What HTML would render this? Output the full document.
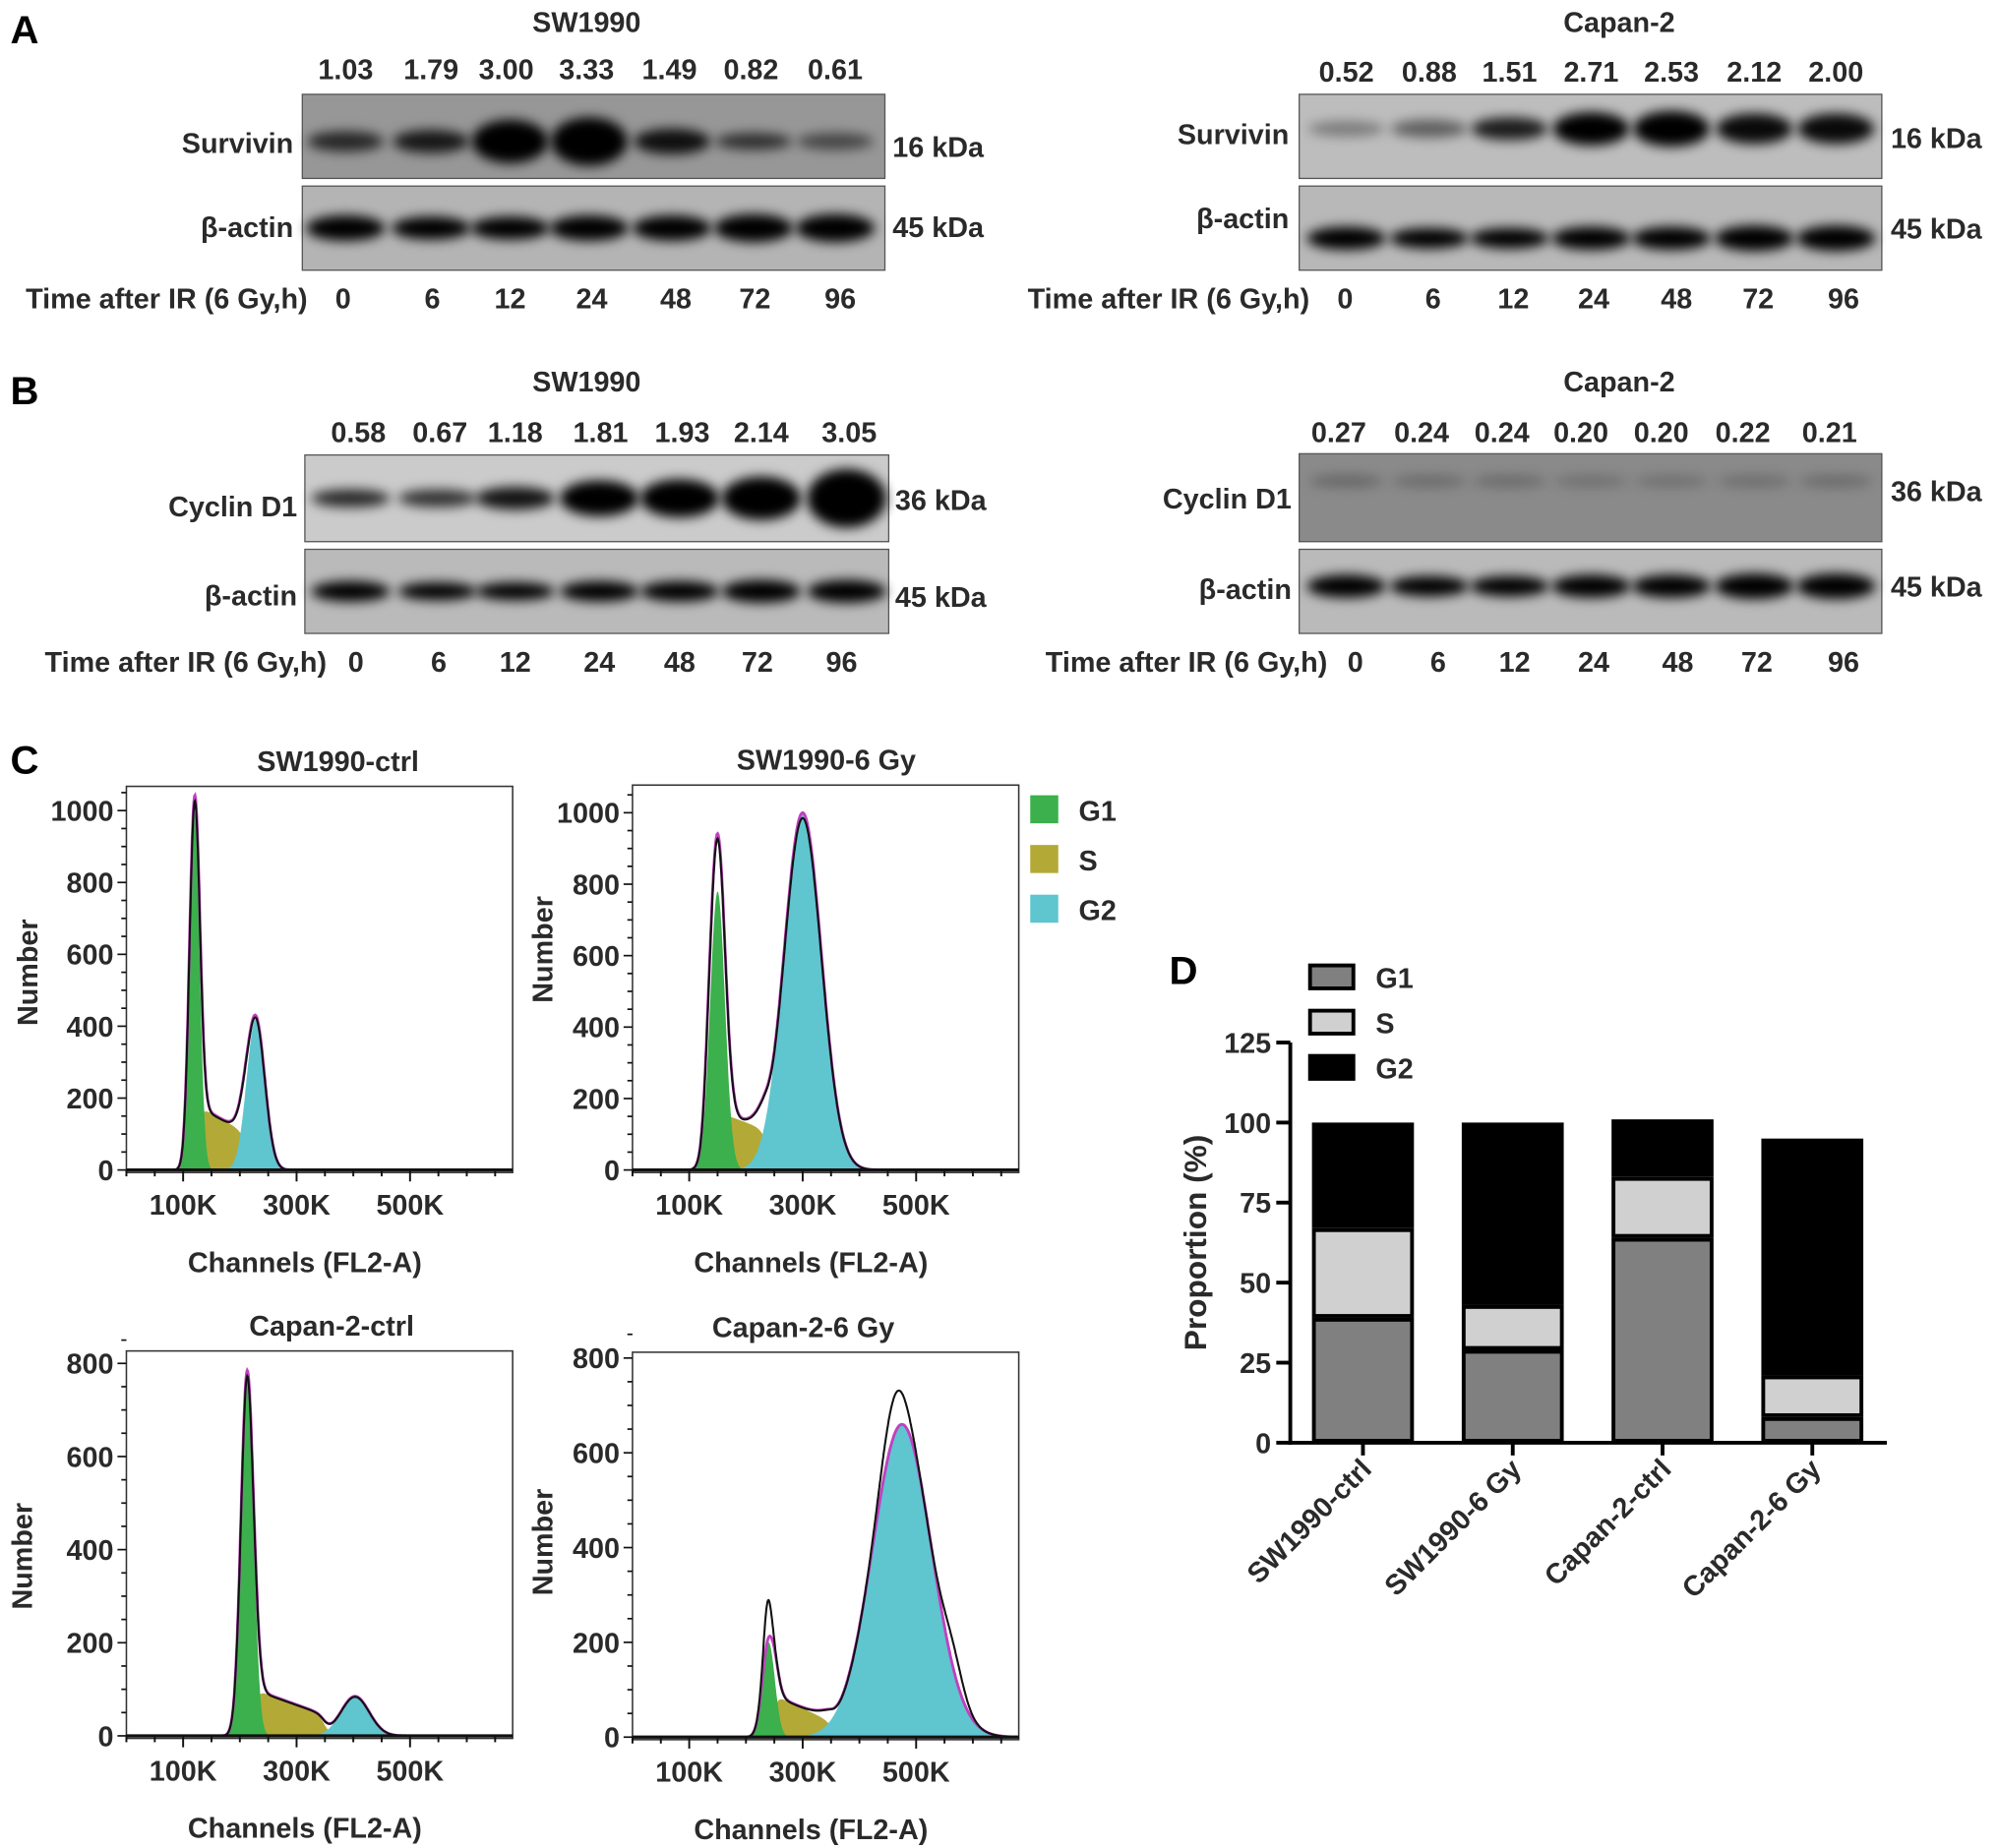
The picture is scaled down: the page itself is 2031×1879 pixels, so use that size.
<!DOCTYPE html>
<html><head><meta charset="utf-8">
<style>
html,body{margin:0;padding:0;background:#fff;}
svg{display:block;}
text{font-family:"Liberation Sans",Arial,sans-serif;font-weight:bold;fill:#2a2a2a;}
.big{font-size:31px;fill:#000;}
</style></head>
<body>
<svg id="fig" width="2031" height="1879" viewBox="0 0 1567 1450" xmlns="http://www.w3.org/2000/svg">
<defs>
<filter id="blur" x="-50%" y="-100%" width="200%" height="300%"><feGaussianBlur stdDeviation="4.5"/></filter>
</defs>
<text class="big" x="8" y="34">A</text>
<text class="big" x="8" y="317">B</text>
<text class="big" x="8" y="607">C</text>
<text class="big" x="917" y="772">D</text>
<g id="blots"></g>
<g id="hists"></g>
<g id="barD"></g>
</svg>
<script>
// ---------- Western blot data ----------
const aSwValues = ["1.03","1.79","3.00","3.33","1.49","0.82","0.61"];
const aCpValues = ["0.52","0.88","1.51","2.71","2.53","2.12","2.00"];
const bSwValues = ["0.58","0.67","1.18","1.81","1.93","2.14","3.05"];
const bCpValues = ["0.27","0.24","0.24","0.20","0.20","0.22","0.21"];
const timeLabels = ["0","6","12","24","48","72","96"];
const aSwBandOp = [0.75,0.85,1,1,0.9,0.7,0.55];
const aSwBandH  = [16,18,34,38,20,13,13];
const aCpBandOp = [0.35,0.5,0.85,1,1,0.95,0.95];
const aCpBandH  = [12,14,18,26,28,24,24];
const bSwBandOp = [0.8,0.75,0.9,1,1,1,1];
const bSwBandH  = [14,14,18,28,30,34,46];
const bCpBandOp = [0.25,0.22,0.22,0.18,0.18,0.2,0.22];
const bCpBandH  = [10,10,10,10,10,10,10];
const actinOp = [1,1,1,1,1,1,1];
const actinH = [20,18,18,20,20,22,22];

// ---------- Flow cytometry data ([mean K, sd K, height]) ----------
const p1G1 = [120, 9, 1000];   const p1G2 = [228, 16, 420];  const p1S = [125, 215, 180, 100];
const p2G1 = [150, 13, 780];   const p2G2 = [300, 33, 1000]; const p2S = [128, 240, 175, 110];
const p3G1 = [213, 11, 780];   const p3G2 = [403, 25, 85];   const p3S = [225, 350, 100, 45];
const p4G1 = [240, 11, 200];   const p4G2 = [475, 52, 660];  const p4S = [248, 355, 90, 30];
const p4Extra = [[238, 7, 85], [462, 22, 90], [565, 18, 55]];
const histYTicks1 = [0,200,400,600,800,1000];
const histYTicks2 = [0,200,400,600,800];
const histXTicks = ["100K","300K","500K"];

// ---------- Panel D data ----------
const dCats = ["SW1990-ctrl","SW1990-6 Gy","Capan-2-ctrl","Capan-2-6 Gy"];
const dG1 = [39, 29, 64, 8];
const dS  = [28, 14, 19, 13];
const dG2 = [33, 57, 18, 74];
const dYTicks = [0,25,50,75,100,125];

const NS = "http://www.w3.org/2000/svg";
function mk(tag, attrs, parent){const e=document.createElementNS(NS,tag);for(const k in attrs)e.setAttribute(k,attrs[k]);parent.appendChild(e);return e;}
function txt(s, x, y, anchor, size, parent){const t=mk('text',{x:x,y:y,'text-anchor':anchor,'font-size':(size*1.11).toFixed(1)},parent);t.textContent=s;return t;}

// ---------- Blots ----------
const blots = document.getElementById('blots');
function blot(x,y,w,h,bg,lanes,ops,hs,bw,name,dy){
  const g=mk('g',{},blots);
  
  
  const r=mk('rect',{x:x,y:y,width:w,height:h,fill:bg,stroke:'#555','stroke-width':1},g);
  
  
  for(let i=0;i<lanes.length;i++){
    const b=mk('ellipse',{cx:lanes[i],cy:y+h/2+(dy||0),rx:bw/2,ry:hs[i]/2,fill:'#000','fill-opacity':ops[i],filter:'url(#blur)'},g);
    
    
  }
}
function rowText(vals, xs, y, name){
  for(let i=0;i<vals.length;i++){
    const t=txt(vals[i], xs[i], y, 'middle', 20, blots);
    
    
  }
}
function lbl(s,x,y,anchor,name){const t=txt(s,x,y,anchor,20,blots);}

const aSwL=[271,338,400,462,527,591,655];
lbl('SW1990',460,25,'middle','blot-title-a-sw1990');
rowText(aSwValues,[271,338,397,460,525,589,655],62,'survivin-ratio-value');
blot(237,74,457,66,'#979797',aSwL,aSwBandOp,aSwBandH,60,'survivin-blot-sw1990',4);
blot(237,146,457,66,'#b4b4b4',aSwL,actinOp,actinH,62,'actin-blot-a-sw1990',0);
lbl('Survivin',230,120,'end','survivin-label'); lbl('β-actin',230,186,'end','actin-label');
lbl('16 kDa',700,123,'start','kda-label'); lbl('45 kDa',700,186,'start','kda-label');
lbl('Time after IR (6 Gy,h)',20,242,'start','time-axis-label');
rowText(timeLabels,[269,339,400,464,530,592,659],242,'time-label');
const aCpL=[1056,1121,1184,1248,1311,1376,1440];
lbl('Capan-2',1270,25,'middle','blot-title-a-capan2');
rowText(aCpValues,[1056,1121,1184,1248,1311,1376,1440],64,'survivin-ratio-value');
blot(1019,74,457,66,'#bdbdbd',aCpL,aCpBandOp,aCpBandH,60,'survivin-blot-capan2',-6);
blot(1019,146,457,66,'#b8b8b8',aCpL,actinOp,actinH.map(v=>v-2),62,'actin-blot-a-capan2',8);
lbl('Survivin',1011,113,'end','survivin-label'); lbl('β-actin',1011,179,'end','actin-label');
lbl('16 kDa',1483,116,'start','kda-label'); lbl('45 kDa',1483,187,'start','kda-label');
lbl('Time after IR (6 Gy,h)',806,242,'start','time-axis-label');
rowText(timeLabels,[1055,1124,1187,1250,1315,1379,1446],242,'time-label');
const bSwL=[275,343,404,470,533,597,664];
lbl('SW1990',460,307,'middle','blot-title-b-sw1990');
rowText(bSwValues,[281,345,404,471,535,597,666],347,'cyclin-ratio-value');
blot(239,357,458,68,'#cbcbcb',bSwL,bSwBandOp,bSwBandH,62,'cyclin-blot-sw1990',0);
blot(239,431,458,66,'#bababa',bSwL,actinOp,actinH.map(v=>v-4),62,'actin-blot-b-sw1990',0);
lbl('Cyclin D1',233,405,'end','cyclin-label'); lbl('β-actin',233,475,'end','actin-label');
lbl('36 kDa',702,400,'start','kda-label'); lbl('45 kDa',702,476,'start','kda-label');
lbl('Time after IR (6 Gy,h)',35,527,'start','time-axis-label');
rowText(timeLabels,[279,344,404,470,533,594,660],527,'time-label');
const bCpL=[1056,1121,1184,1248,1311,1376,1440];
lbl('Capan-2',1270,307,'middle','blot-title-b-capan2');
rowText(bCpValues,[1050,1115,1178,1240,1303,1367,1435],347,'cyclin-ratio-value');
blot(1019,356,457,69,'#8a8a8a',bCpL,bCpBandOp,bCpBandH,58,'cyclin-blot-capan2',-13);
blot(1019,431,457,66,'#bababa',bCpL,actinOp,actinH.map(v=>v-2),62,'actin-blot-b-capan2',-4);
lbl('Cyclin D1',1013,399,'end','cyclin-label'); lbl('β-actin',1013,470,'end','actin-label');
lbl('36 kDa',1483,393,'start','kda-label'); lbl('45 kDa',1483,468,'start','kda-label');
lbl('Time after IR (6 Gy,h)',820,527,'start','time-axis-label');
rowText(timeLabels,[1063,1128,1188,1250,1316,1378,1446],527,'time-label');

// ---------- Histograms ----------
const hists=document.getElementById('hists');
function gauss(v,c){return c[2]*Math.exp(-0.5*Math.pow((v-c[0])/c[1],2));}
function sig(z){return 1/(1+Math.exp(-z));}
function sComp(v,s){const t=Math.min(1,Math.max(0,(v-s[0])/(s[1]-s[0])));return (s[2]+(s[3]-s[2])*t)*sig((v-s[0])/4)*sig((s[1]-v)/6);}
function hist(cfg){
  const g=mk('g',{},hists);
  
  
  const X=v=>cfg.x0+0.445*v, Y=c=>cfg.y0-c*cfg.ky;
  const top=cfg.top, right=cfg.x0+303;
  const frame=mk('rect',{x:cfg.x0,y:top,width:303,height:cfg.y0+2-top,fill:'#fff',stroke:'#333','stroke-width':1.2},g);
  
  
  function area(fn,color,name){
    let d='M'+X(0)+','+Y(0);
    for(let v=0;v<=680;v+=1){d+=' L'+X(v).toFixed(1)+','+Y(fn(v)).toFixed(1);}
    d+=' L'+X(680)+','+Y(0)+'Z';
    const p=mk('path',{d:d,fill:color},g);
    
    
  }
  area(v=>sComp(v,cfg.S),'#b3a936','s-phase-area');
  area(v=>gauss(v,cfg.G1),'#3bb04c','g1-area');
  area(v=>gauss(v,cfg.G2),'#5fc5cf','g2-area');
  function line(fn,color,w,name){
    let d='';
    for(let v=0;v<=680;v+=1){d+=(v?' L':'M')+X(v).toFixed(1)+','+Y(fn(v)).toFixed(1);}
    const p=mk('path',{d:d,fill:'none',stroke:color,'stroke-width':w},g);
    
    
  }
  const fit=v=>gauss(v,cfg.G1)+gauss(v,cfg.G2)+sComp(v,cfg.S);
  line(fit,'#c040c0',2.2,'model-fit-line');
  const obs=v=>{let s=fit(v)*0.985;(cfg.extra||[]).forEach(c=>{s+=gauss(v,c);});return s;};
  line(obs,'#111',1.6,'data-line');
  const ax=mk('line',{x1:cfg.x0,y1:cfg.y0,x2:right,y2:cfg.y0,stroke:'#111','stroke-width':2.5},g);
  
  
  for(let v=0;v<=650;v+=50){
    const major=(v===100||v===300||v===500);
    const tk=mk('line',{x1:X(v),y1:cfg.y0,x2:X(v),y2:cfg.y0+(major?9:5),stroke:'#111','stroke-width':1.5},g);
    
    
  }
  histXTicks.forEach((s,i)=>{
    const t=txt(s,X(100+200*i),cfg.y0+35,'middle',20,g);
    
    
  });
  const ymax=cfg.yt[cfg.yt.length-1];
  for(let c=0;c<=ymax+50;c+=50){
    const major=c%200===0;
    const tk=mk('line',{x1:cfg.x0-(major?7:4),y1:Y(c),x2:cfg.x0,y2:Y(c),stroke:'#111','stroke-width':1.3},g);
    
    
  }
  cfg.yt.forEach(c=>{
    const t=txt(String(c),cfg.x0-10,Y(c)+8,'end',20,g);
    
    
  });
  const ti=txt(cfg.title,cfg.tx,top-12,'middle',20,g);
  
  
  const xl=txt('Channels (FL2-A)',cfg.x0+140,cfg.y0+80,'middle',20,g);
  
  
  const yl=txt('Number',0,0,'middle',20,g);
  yl.setAttribute('transform','translate('+(cfg.ylx)+','+cfg.yly+') rotate(-90)');
  
  
}
hist({name:'histogram-sw1990-ctrl',title:'SW1990-ctrl',tx:265,x0:99,y0:918,ky:0.282,top:617,G1:p1G1,G2:p1G2,S:p1S,yt:histYTicks1,ylx:29,yly:763});
hist({name:'histogram-sw1990-6gy',title:'SW1990-6 Gy',tx:648,x0:496,y0:918,ky:0.2803,top:616,G1:p2G1,G2:p2G2,S:p2S,yt:histYTicks1,ylx:433,yly:745});
hist({name:'histogram-capan2-ctrl',title:'Capan-2-ctrl',tx:260,x0:99,y0:1362,ky:0.3653,top:1060,G1:p3G1,G2:p3G2,S:p3S,yt:histYTicks2,ylx:25,yly:1221});
hist({name:'histogram-capan2-6gy',title:'Capan-2-6 Gy',tx:630,x0:496,y0:1363,ky:0.3718,top:1061,G1:p4G1,G2:p4G2,S:p4S,yt:histYTicks2,ylx:433,yly:1210,extra:p4Extra});
const legC=[['G1','#3bb04c'],['S','#b3a936'],['G2','#5fc5cf']];
legC.forEach((l,i)=>{
  const r=mk('rect',{x:808,y:624+i*39,width:22,height:22,fill:l[1]},hists);
  
  
  const t=txt(l[0],846,644+i*39,'start',20,hists);
  
  
});

// ---------- Panel D ----------
const bd=document.getElementById('barD');
const yD=v=>1132-v*2.512;
const bandW=118, bx0=1010, barW=80;
const xD=i=>bx0+59+i*bandW+(i*-0.5);
const ya=mk('line',{x1:1012,y1:yD(125),x2:1012,y2:yD(0)+1.5,stroke:'#000','stroke-width':3},bd);


const xa=mk('line',{x1:1010.5,y1:yD(0),x2:1480,y2:yD(0),stroke:'#000','stroke-width':3},bd);


dYTicks.forEach(v=>{
  const tk=mk('line',{x1:1001,y1:yD(v),x2:1012,y2:yD(v),stroke:'#000','stroke-width':3},bd);
  
  
  const t=txt(String(v),997,yD(v)+8,'end',20,bd);
  
  
});
const yt=txt('Proportion (%)',0,0,'middle',22,bd);
yt.setAttribute('transform','translate(946,975) rotate(-90)');


dCats.forEach((c,i)=>{
  const cx=xD(i);
  const segs=[[0,dG1[i],'#808080','g1'],[dG1[i],dG1[i]+dS[i],'#d0d0d0','s'],[dG1[i]+dS[i],dG1[i]+dS[i]+dG2[i],'#000','g2']];
  segs.forEach(s=>{
    const r=mk('rect',{x:cx-barW/2+1.5,y:yD(s[1])+1.5,width:barW-3,height:Math.max(0,yD(s[0])-yD(s[1])-3),fill:s[2],stroke:'#000','stroke-width':3},bd);
    
    
  });
  const tk=mk('line',{x1:cx,y1:yD(0),x2:cx,y2:yD(0)+10,stroke:'#000','stroke-width':3},bd);
  
  
  const t=txt(c,0,0,'end',20,bd);
  t.setAttribute('transform','translate('+(cx+8)+','+(yD(0)+22)+') rotate(-45)');
  
  
});
const legD=[['G1','#808080'],['S','#d0d0d0'],['G2','#000']];
legD.forEach((l,i)=>{
  const r=mk('rect',{x:1027.5,y:757.5+i*35.5,width:34,height:18,fill:l[1],stroke:'#000','stroke-width':3},bd);
  
  
  const t=txt(l[0],1079,775+i*35.5,'start',20,bd);
  
  
});
</script>
</body></html>
